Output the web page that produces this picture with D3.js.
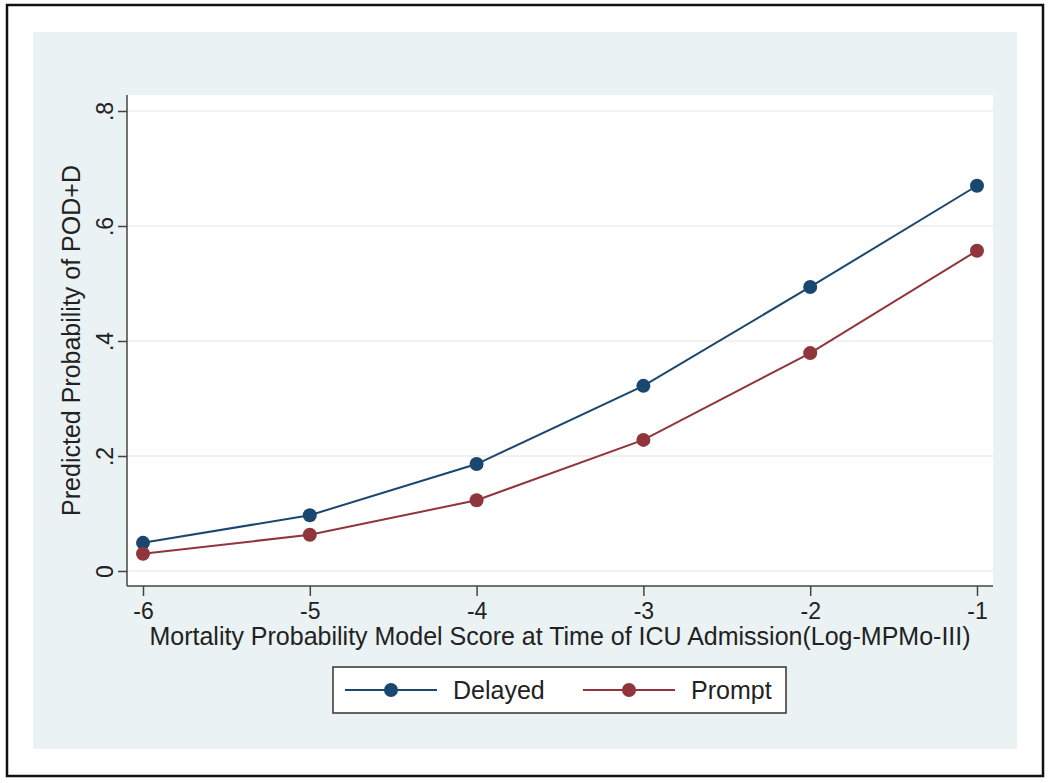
<!DOCTYPE html>
<html>
<head>
<meta charset="utf-8">
<script src="https://cdn.jsdelivr.net/npm/d3@7"></script>
<style>
  html, body { margin: 0; padding: 0; background: #fff; }
  svg { display: block; font-family: 'Liberation Sans', Arial, sans-serif; }
</style>
</head>
<body>
<div id="chart"></div>
<script>
// Predicted probability of POD+D by log-MPMo-III score, Stata s2color look

var X_VALUES = [-6, -5, -4, -3, -2, -1];
var DELAYED = [0.049, 0.097, 0.186, 0.322, 0.494, 0.670];
var PROMPT = [0.030, 0.063, 0.123, 0.228, 0.379, 0.557];
var Y_TICKS = [0, 0.2, 0.4, 0.6, 0.8];
var Y_TICK_LABELS = ['0', '.2', '.4', '.6', '.8'];
var SERIES_NAMES = ['Delayed', 'Prompt'];

var W = 1050, H = 783;
var NAVY = '#1a476f', MAROON = '#90353b';

var svg = d3.select('#chart').append('svg')
  .attr('width', W)
  .attr('height', H);

// outer frame + graph region
svg.append('rect')
  .attr('x', 7).attr('y', 5).attr('width', 1036).attr('height', 771)
  .attr('fill', '#fff').attr('stroke', '#111').attr('stroke-width', 2.5);
svg.append('rect')
  .attr('x', 33).attr('y', 32).attr('width', 984).attr('height', 717)
  .attr('fill', '#eaf2f3');

var plot = { left: 127, right: 993, top: 95, bottom: 586 };
svg.append('rect')
  .attr('x', plot.left).attr('y', plot.top)
  .attr('width', plot.right - plot.left).attr('height', plot.bottom - plot.top)
  .attr('fill', '#fff');

var x = d3.scaleLinear().domain([-6, -1]).range([143, 977]);
var y = d3.scaleLinear().domain([0, 0.8]).range([571, 111]);

// gridlines
svg.append('g').selectAll('line')
  .data(Y_TICKS)
  .join('line')
  .attr('x1', plot.left).attr('x2', plot.right)
  .attr('y1', function (d) { return y(d); })
  .attr('y2', function (d) { return y(d); })
  .attr('stroke', '#ececec').attr('stroke-width', 1.5);

// y axis
var yAxis = d3.axisLeft(y)
  .tickValues(Y_TICKS)
  .tickSize(9)
  .tickFormat(function (d, i) { return Y_TICK_LABELS[i]; });
var gy = svg.append('g')
  .attr('transform', 'translate(' + plot.left + ',0)')
  .call(yAxis);
gy.select('.domain').remove();
gy.append('line')
  .attr('x1', 0).attr('x2', 0).attr('y1', plot.top).attr('y2', plot.bottom)
  .attr('stroke', '#444').attr('stroke-width', 1.5);
gy.selectAll('.tick line').attr('stroke', '#444').attr('stroke-width', 1.5);
gy.selectAll('.tick text')
  .attr('x', null).attr('dy', null)
  .attr('transform', 'translate(-14,0) rotate(-90)')
  .attr('text-anchor', 'middle')
  .attr('fill', '#222')
  .style('font-size', '23px');

// x axis
var xAxis = d3.axisBottom(x)
  .tickValues(X_VALUES)
  .tickSize(10)
  .tickFormat(d3.format('d'));
var gx = svg.append('g')
  .attr('transform', 'translate(0,' + plot.bottom + ')')
  .call(xAxis);
gx.select('.domain').remove();
gx.append('line')
  .attr('x1', plot.left).attr('x2', plot.right).attr('y1', 0).attr('y2', 0)
  .attr('stroke', '#444').attr('stroke-width', 1.5);
gx.selectAll('.tick line').attr('stroke', '#444').attr('stroke-width', 1.5);
gx.selectAll('.tick text')
  .attr('y', 33).attr('dy', null)
  .attr('fill', '#222')
  .style('font-size', '23px')
  .text(function (d) { return String(d).replace('\u2212', '-'); });

// axis titles
svg.append('text')
  .attr('x', (plot.left + plot.right) / 2).attr('y', 645)
  .attr('text-anchor', 'middle').attr('fill', '#222')
  .style('font-size', '25px')
  .text('Mortality Probability Model Score at Time of ICU Admission(Log-MPMo-III)');
svg.append('text')
  .attr('transform', 'translate(80,' + ((plot.top + plot.bottom) / 2) + ') rotate(-90)')
  .attr('text-anchor', 'middle').attr('fill', '#222')
  .style('font-size', '25px')
  .text('Predicted Probability of POD+D');

// series
var line = d3.line()
  .x(function (d, i) { return x(X_VALUES[i]); })
  .y(function (d) { return y(d); });

var series = [
  { name: SERIES_NAMES[0], values: DELAYED, color: NAVY },
  { name: SERIES_NAMES[1], values: PROMPT, color: MAROON }
];

series.forEach(function (s) {
  svg.append('path')
    .datum(s.values)
    .attr('d', line)
    .attr('fill', 'none')
    .attr('stroke', s.color)
    .attr('stroke-width', 2);
  svg.append('g').selectAll('circle')
    .data(s.values)
    .join('circle')
    .attr('cx', function (d, i) { return x(X_VALUES[i]); })
    .attr('cy', function (d) { return y(d); })
    .attr('r', 7)
    .attr('fill', s.color);
});

// legend
var legend = svg.append('g');
legend.append('rect')
  .attr('x', 333).attr('y', 667).attr('width', 453).attr('height', 46)
  .attr('fill', '#fff').attr('stroke', '#333').attr('stroke-width', 1.5);

var legendX = [345, 583];
series.forEach(function (s, i) {
  var lx = legendX[i];
  legend.append('line')
    .attr('x1', lx).attr('x2', lx + 92).attr('y1', 690).attr('y2', 690)
    .attr('stroke', s.color).attr('stroke-width', 2);
  legend.append('circle')
    .attr('cx', lx + 46).attr('cy', 690).attr('r', 7)
    .attr('fill', s.color);
  legend.append('text')
    .attr('x', lx + 108).attr('y', 699)
    .attr('fill', '#222')
    .style('font-size', '25px')
    .text(s.name);
});
</script>
</body>
</html>
